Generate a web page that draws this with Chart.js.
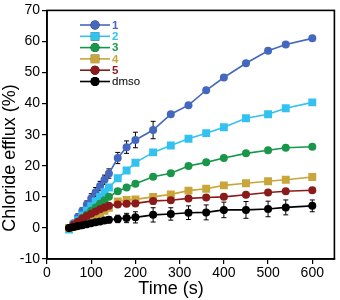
<!DOCTYPE html>
<html>
<head>
<meta charset="utf-8">
<script src="https://cdn.jsdelivr.net/npm/chart.js@4.4.1/dist/chart.umd.min.js"></script>
<style>
html,body{margin:0;padding:0;background:#fff;}
#wrap{width:340px;height:300px;}
</style>
</head>
<body>
<div id="wrap"><canvas id="c" width="340" height="300"></canvas></div>
<script>
const times = [50,60,70,80,90,100,110,120,130,140,160,180,200,240,280,320,360,400,450,500,540,600];
const labels = ['1','2','3','4','5','dmso'];
const s1 = [0,1.5,3.5,5.5,7.5,9.5,11.5,13.5,15.5,17.5,22.5,26,28.3,31.5,36.6,39.5,44.3,48.4,53,57,59,61];
const s2 = [-0.5,1,2.5,4,5.5,7,8.5,10,11.5,13,16,18.5,21,24.3,26.5,28.7,30.5,32.4,35.3,36.6,38.5,40.4];
const s3 = [0,1,2,3.2,4.3,5.5,6.6,7.8,8.9,10,11.8,13,14.2,16.5,17.6,19.9,21.1,22.5,24,25,25.8,26.1];
const s4 = [0,0.3,0.8,1.4,2.1,2.9,3.7,4.6,5.5,6.5,8.5,9,9.2,10,10.8,12,12.6,13.7,14.4,15,15.5,16.4];
const s5 = [0,1,2,3,3.8,4.6,5.3,6,6.6,7.1,7.5,7.8,7.9,8.7,8.9,9.5,9.8,10,10.7,11.4,11.8,12.1];
const s6 = [0,0.3,0.6,0.9,1.2,1.5,1.8,2.1,2.4,2.6,2.9,3.2,3.4,4.2,4.5,4.9,5,5.8,5.8,6.1,6.6,7.1];
const e1 = [0,0.5,1,1,1.2,1.5,1.5,1.5,1.5,1.5,1.8,2,2.5,2.8,0,0,0,0,0,0,0,0];
const e6 = [0,0,0,0,0,0.5,0.5,0.6,0.8,1,1.2,1.5,1.8,2.3,2,2.2,2.4,2.5,2.7,2.5,2.4,1.9];
const e5 = [0,0,0,0,0,0,0,0,0,0,0,0,0,1,0,0,0,0,0,0,0,0];
const colors = ['#4468c0','#33c2f0','#18974a','#c9a53a','#8b1a1a','#000000'];
const shapes = ['circle','rect','circle','rect','circle','circle'];
const series = [s1,s2,s3,s4,s5,s6];
const errs = [e1,null,null,null,e5,e6];
const xTicks = [0,100,200,300,400,500,600];
const yTicks = [-10,0,10,20,30,40,50,60,70];
const xTitle = 'Time (s)';
const yTitle = 'Chloride efflux (%)';
const FONT = '"Liberation Sans", Arial, sans-serif';

const datasets = series.map((s,i)=>({
  label: labels[i],
  data: s.map((v,j)=>({x:times[j], y:v})),
  borderColor: colors[i],
  backgroundColor: colors[i],
  pointBackgroundColor: colors[i],
  pointBorderColor: colors[i],
  pointStyle: shapes[i],
  pointRadius: shapes[i]==='rect'?5.6:4,
  pointBorderWidth: 0,
  borderWidth: 1.6,
  tension: 0,
  errors: errs[i],
  order: 5 - i
}));

const errorBars = {
  id:'errorBars',
  beforeDatasetsDraw(chart){
    const ctx = chart.ctx, ys = chart.scales.y, xs = chart.scales.x;
    chart.data.datasets.forEach((ds)=>{
      if(!ds.errors) return;
      ctx.save();
      ctx.strokeStyle = '#000';
      ctx.lineWidth = 1;
      ds.data.forEach((p,j)=>{
        const e = ds.errors[j];
        if(!e) return;
        const px = xs.getPixelForValue(p.x);
        const y1 = ys.getPixelForValue(p.y+e), y2 = ys.getPixelForValue(p.y-e);
        ctx.beginPath();
        ctx.moveTo(px,y1); ctx.lineTo(px,y2);
        ctx.moveTo(px-2.5,y1); ctx.lineTo(px+2.5,y1);
        ctx.moveTo(px-2.5,y2); ctx.lineTo(px+2.5,y2);
        ctx.stroke();
      });
      ctx.restore();
    });
  }
};

const frame = {
  id:'frame',
  afterDraw(chart){
    const {ctx, chartArea:a} = chart;
    ctx.save();
    ctx.strokeStyle='#000'; ctx.lineWidth=1.6;
    ctx.strokeRect(a.left, a.top, a.right-a.left, a.bottom-a.top);
    ctx.fillStyle = '#000';
    ctx.font = '18px ' + FONT;
    ctx.textAlign = 'center';
    ctx.textBaseline = 'middle';
    ctx.fillText(xTitle, 171, 289);
    ctx.translate(10, 158);
    ctx.rotate(-Math.PI/2);
    ctx.fillText(yTitle, 0, 0);
    ctx.restore();
  }
};

const legendPlug = {
  id:'legendPlug',
  afterDraw(chart){
    const ctx = chart.ctx;
    const x0 = 80, x1 = 110, xm = 95, ty0 = 25, dy = 11.3;
    chart.data.datasets.forEach((ds,i)=>{
      const y = ty0 + i*dy;
      ctx.save();
      ctx.strokeStyle = ds.borderColor; ctx.lineWidth = 1.6;
      ctx.beginPath(); ctx.moveTo(x0,y); ctx.lineTo(x1,y); ctx.stroke();
      Chart.helpers.drawPoint(ctx, {pointStyle: ds.pointStyle, radius: ds.pointStyle==='rect'?6:4.5, borderWidth:0}, xm, y);
      ctx.fillStyle = ds.borderColor;
      ctx.fill();
      ctx.font = (ds.label==='dmso' ? 'normal ' : 'bold ') + '11.5px ' + FONT;
      ctx.textBaseline = 'middle';
      ctx.fillText(ds.label, x1+2, y+0.5);
      ctx.restore();
    });
  }
};

new Chart(document.getElementById('c'), {
  type:'line',
  data:{datasets},
  plugins:[errorBars, frame, legendPlug],
  options:{
    responsive:false,
    animation:false,
    layout:{padding:{left:2,right:4,top:8,bottom:1}},
    plugins:{legend:{display:false}, tooltip:{enabled:false}},
    scales:{
      x:{
        type:'linear', min:0, max:650,
        afterBuildTicks(s){ s.ticks = xTicks.map(v=>({value:v})); },
        afterFit(s){ s.height = 40; },
        grid:{drawOnChartArea:false, drawTicks:true, tickLength:5, color:'#000', lineWidth:1.2},
        border:{display:true, color:'#000', width:1.6},
        ticks:{color:'#000', font:{family:FONT, size:14}, padding:1, maxRotation:0},
        title:{display:false}
      },
      y:{
        min:-10, max:70,
        afterBuildTicks(s){ s.ticks = yTicks.map(v=>({value:v})); },
        afterFit(s){ s.width = 45; },
        grid:{drawOnChartArea:false, drawTicks:true, tickLength:5, color:'#000', lineWidth:1.2},
        border:{display:true, color:'#000', width:1.6},
        ticks:{color:'#000', font:{family:FONT, size:14}, padding:2},
        title:{display:false}
      }
    }
  }
});
</script>
</body>
</html>
